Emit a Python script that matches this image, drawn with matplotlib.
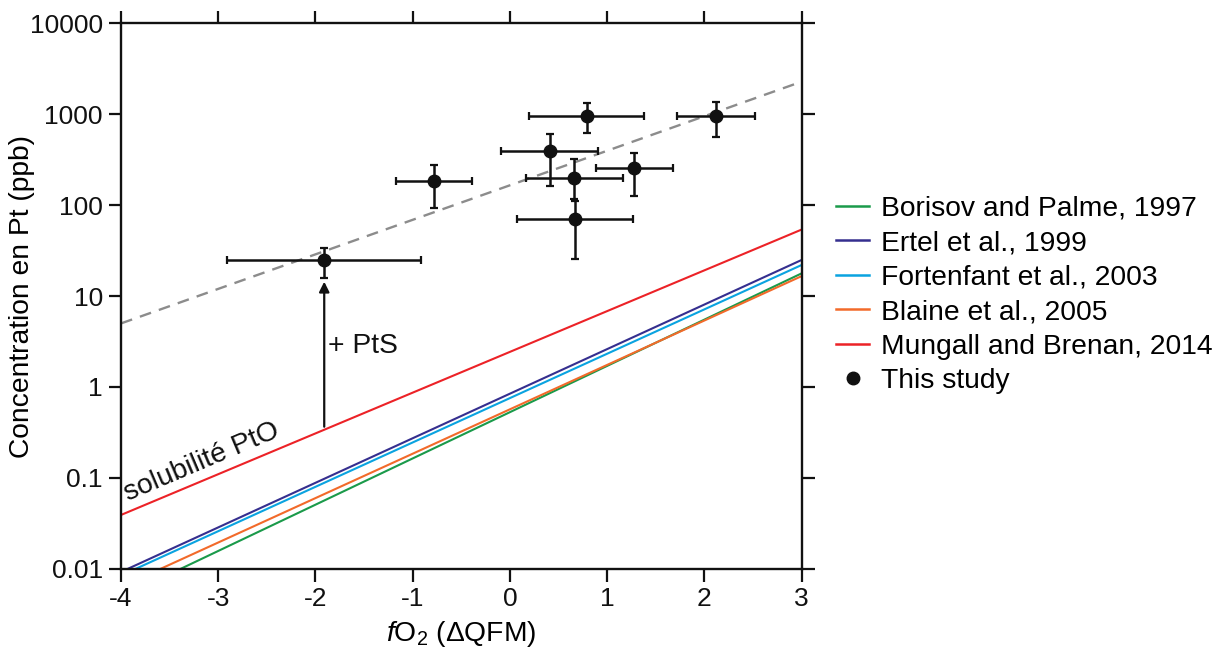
import matplotlib
matplotlib.use("Agg")
import matplotlib.pyplot as plt
from matplotlib.lines import Line2D

plt.rcParams['font.family'] = ['Liberation Sans', 'DejaVu Sans']
plt.rcParams['mathtext.fontset'] = 'custom'
plt.rcParams['mathtext.rm'] = 'Liberation Sans'
plt.rcParams['mathtext.it'] = 'Liberation Sans:italic'

# --- data ---
x_ends = [-4, 3]
model_names = ["Borisov and Palme, 1997", "Ertel et al., 1999",
               "Fortenfant et al., 2003", "Blaine et al., 2005",
               "Mungall and Brenan, 2014"]
model_colors = ["#1a9a4a", "#352f8f", "#0aa3e0", "#f26a2a", "#ec2227"]
borisov = [0.00485, 17.8]
ertel = [0.0092, 25.0]
fortenfant = [0.0084, 22.0]
blaine = [0.0063, 16.6]
mungall = [0.039, 54.0]
model_values = [borisov, ertel, fortenfant, blaine, mungall]

trend_y = [5.0, 2290.0]

study_x = [-1.91, -0.78, 0.79, 2.12, 0.41, 0.66, 0.67, 1.28]
study_y = [25, 185, 970, 970, 395, 201, 70, 255]
study_xerr = [1.0, 0.39, 0.59, 0.40, 0.50, 0.50, 0.60, 0.40]
study_y_lo = [15.7, 94, 619, 560, 163, 117, 25.6, 126]
study_y_hi = [34, 277, 1324, 1355, 604, 320, 111, 378]

arrow_x = -1.91
arrow_from = 0.365
arrow_to = 14.4

FS = 20.3
TFS = 19

fig = plt.figure(figsize=(12.27, 6.52), dpi=100)
ax = fig.add_axes([0.0986, 0.1278, 0.5548, 0.8362])

for name, col, vals in zip(model_names, model_colors, model_values):
    ax.plot(x_ends, vals, color=col, lw=1.5, label=name, solid_capstyle='butt')

ax.plot(x_ends, trend_y, color='#8c8c8c', lw=1.7, dashes=(5, 3.5))

yerr = [[y - lo for y, lo in zip(study_y, study_y_lo)],
        [hi - y for y, hi in zip(study_y, study_y_hi)]]
ax.errorbar(study_x, study_y, xerr=study_xerr, yerr=yerr, fmt='o',
            color='#111111', ms=9, elinewidth=1.8, capsize=3, capthick=1.6,
            zorder=5)

ax.annotate("", xy=(arrow_x, arrow_to), xytext=(arrow_x, arrow_from),
            arrowprops=dict(arrowstyle='-|>', color='#111111', lw=1.6,
                            mutation_scale=15, shrinkA=0, shrinkB=0))
ax.text(-1.87, 2.8, "+ PtS", fontsize=FS, ha='left', va='center', color='#111111')
ax.text(-3.93, 0.055, "solubilité PtO", fontsize=FS, ha='left', va='baseline',
        rotation=23, rotation_mode='anchor', color='#111111')

ax.set_yscale('log')
ax.set_xlim(-4, 3)
ax.set_ylim(0.01, 10000)
ax.set_xticks([-4, -3, -2, -1, 0, 1, 2, 3])
ax.set_xticklabels(['-4', '-3', '-2', '-1', '0', '1', '2', '3'])
yt = [0.01, 0.1, 1, 10, 100, 1000, 10000]
ax.set_yticks(yt)
ax.set_yticklabels(['0.01', '0.1', '1', '10', '100', '1000', '10000'])
ax.minorticks_off()
ax.tick_params(axis='both', which='major', direction='out', length=9, width=1.6,
               labelsize=TFS, top=True, right=True, pad=4, colors='#111111')
for s in ax.spines.values():
    s.set_linewidth(1.7)
    s.set_color('#111111')

ax.set_xlabel(r"$\it{f}$O$_2$ ($\Delta$QFM)", fontsize=FS, labelpad=6)
ax.set_ylabel("Concentration en Pt (ppb)", fontsize=FS)
ax.yaxis.set_label_coords(-0.126, 0.5)

handles = [Line2D([0], [0], color=c, lw=1.8) for c in model_colors]
handles.append(Line2D([0], [0], marker='o', color='#111111', ls='none', ms=9))
labels = model_names + ["This study"]
fig.legend(handles, labels, loc='center left', bbox_to_anchor=(0.681, 0.5475),
           frameon=False, fontsize=FS, handlelength=1.2, handletextpad=0.42,
           labelspacing=0.3, borderpad=0, borderaxespad=0)

fig.savefig("out.png", dpi=100)
